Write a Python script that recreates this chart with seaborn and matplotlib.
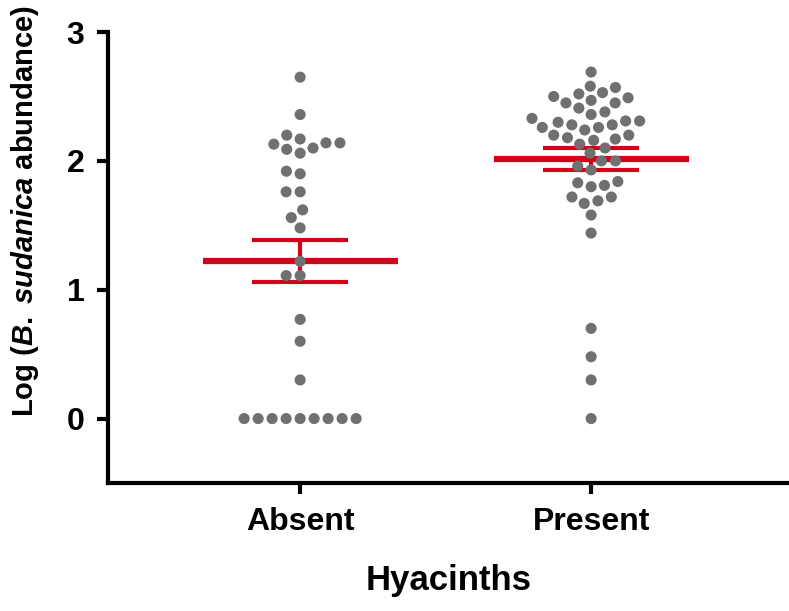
import matplotlib
matplotlib.use("Agg")
import matplotlib.pyplot as plt
import numpy as np
import pandas as pd
import seaborn as sns

# log abundance per site
absent = [2.65, 2.36, 2.20, 2.14, 2.10, 2.06, 2.09, 2.17, 2.13, 2.14,
          1.92, 1.90, 1.76, 1.76, 1.62, 1.56, 1.48, 1.22, 1.11, 1.11,
          0.77, 0.60, 0.30, 0, 0, 0, 0, 0, 0, 0, 0, 0]
present = [2.69, 2.58, 2.57, 2.53, 2.52, 2.50, 2.49, 2.47, 2.45, 2.45,
           2.41, 2.38, 2.36, 2.33, 2.31, 2.30, 2.31, 2.28, 2.26, 2.28,
           2.26, 2.24, 2.20, 2.20, 2.16, 2.17, 2.18, 2.13, 2.10, 2.06,
           2.00, 2.00, 1.96, 1.93, 1.84, 1.83, 1.81, 1.80, 1.72, 1.69,
           1.67, 1.72, 1.58, 1.44, 0.70, 0.48, 0.30, 0.0]
groups = ["Absent", "Present"]
yticks = [0, 1, 2, 3]

df = pd.DataFrame({
    "hyacinths": ["Absent"] * len(absent) + ["Present"] * len(present),
    "log_abund": absent + present,
})

sns.set_style("ticks")
plt.rcParams["font.family"] = ["Liberation Sans", "DejaVu Sans"]
plt.rcParams["font.weight"] = "bold"
plt.rcParams["text.color"] = "black"
plt.rcParams["axes.labelcolor"] = "black"
plt.rcParams["xtick.color"] = "black"
plt.rcParams["ytick.color"] = "black"
plt.rcParams["axes.edgecolor"] = "black"
plt.rcParams["mathtext.fontset"] = "custom"
plt.rcParams["mathtext.it"] = "Liberation Sans:italic:bold"
plt.rcParams["mathtext.rm"] = "Liberation Sans:bold"

red = "#d50019"

fig = plt.figure(figsize=(7.89, 6.11), dpi=100)
ax = fig.add_axes([0.137, 0.2095, 0.863, 0.738])

# mean +/- SEM
stats = df.groupby("hyacinths")["log_abund"].agg(["mean", "sem"]).reindex(groups)
for i, g in enumerate(groups):
    m, se = stats.loc[g, "mean"], stats.loc[g, "sem"]
    ax.hlines(m, i - 0.335, i + 0.335, color=red, lw=4.5, zorder=1)
    ax.hlines([m - se, m + se], i - 0.165, i + 0.165, color=red, lw=3, zorder=1)
    ax.vlines(i, m - se, m + se, color=red, lw=3, zorder=1)

sns.swarmplot(data=df, x="hyacinths", y="log_abund", order=groups,
              color="#707070", size=8, linewidth=1.6, edgecolor="none",
              zorder=3, ax=ax)

ax.set_xlim(-0.66, 1.68)
ax.set_ylim(-0.5, 3)
ax.set_yticks(yticks)
ax.set_xlabel("Hyacinths", fontsize=25, fontweight="bold", labelpad=20)
ax.set_ylabel(r"Log ($\mathit{B.}$ $\mathit{sudanica}$ abundance)",
              fontsize=21, fontweight="bold")
ax.yaxis.set_label_coords(-0.098, 0.603)
ax.tick_params(axis="both", width=3, length=8, labelsize=23, pad=9)
for lab in ax.get_xticklabels() + ax.get_yticklabels():
    lab.set_fontweight("bold")

sns.despine(ax=ax)
ax.spines["left"].set_linewidth(3)
ax.spines["bottom"].set_linewidth(3)

fig.savefig("out.png", dpi=100)
